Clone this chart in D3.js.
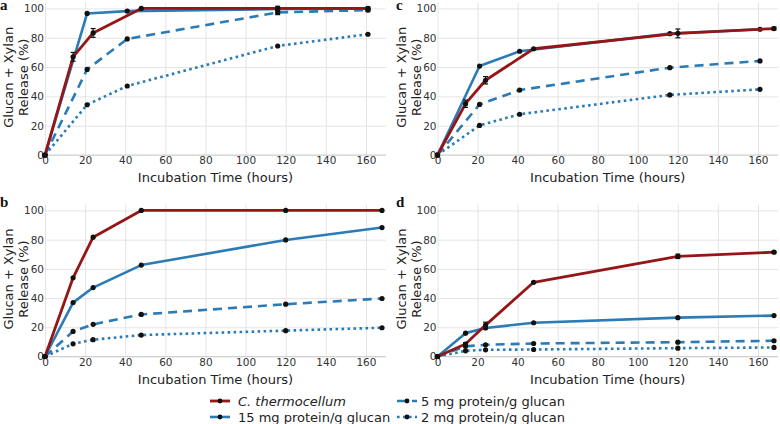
<!DOCTYPE html>
<html><head><meta charset="utf-8">
<script src="https://cdn.jsdelivr.net/npm/d3@7"></script>
<style>
html,body{margin:0;padding:0;background:#fff;}
svg text{font-family:"DejaVu Sans",Verdana,sans-serif;}
</style></head>
<body><svg id="chart" width="780" height="424"></svg>
<script>
// ---------- data ----------
const xTicks = [0,20,40,60,80,100,120,140,160];
const yTicks = [0,20,40,60,80,100];
const seriesNames = ["C. thermocellum","15 mg protein/g glucan","5 mg protein/g glucan","2 mg protein/g glucan"];

// panel a
const tA_ct  = [0,14,24,48,116,161];
const tA_enz = [0,21,41,116,161];
const a_ct   = [0,67,83.3,100,100,100];
const a_ctErr= [0,3,3,0,1.5,1];
const a_15   = [0,96.6,98.2,99.6,99.8];
const a_5    = [0,58.4,79.2,97.3,98.9];
const a_5Err = [0,0,0,1.5,1];
const a_2    = [0,34.3,47.1,74.4,82.4];

// panel b
const tB     = [0,14,24,48,120,168];
const b_ct   = [0,53.9,81.7,100,100,100];
const b_15   = [0,36.9,47.2,62.6,79.8,88.3];
const b_5    = [0,17.2,22,28.8,35.8,39.7];
const b_2    = [0,8.7,11.5,14.7,17.7,19.7];

// panel c
const tC_ct  = [0,14,24,48,120,168];
const tC_enz = [0,21,41,116,161];
const c_ct   = [0,35,51,72.5,83,86.3];
const c_ctErr= [0,2.5,2.5,0,3,1];
const c_15   = [0,60.7,70.8,82.8,85.8];
const c_5    = [0,34.5,44.3,59.6,64.2];
const c_2    = [0,20.2,27.8,41,44.8];

// panel d
const tD     = [0,14,24,48,120,168];
const d_ct   = [0,8.5,21.5,50.8,68.6,71.4];
const d_ctErr= [0,1,2,0.5,1.5,0.5];
const d_15   = [0,16,19.5,23.1,26.6,28];
const d_5    = [0,7,8,8.9,9.8,10.8];
const d_2    = [0,3.9,4.6,4.8,5.7,6.2];

// ---------- styles ----------
const RED = "#941616", BLUE = "#2a7bb6";
const styles = [
  {color:RED,  width:2.8, dash:null},
  {color:BLUE, width:2.6, dash:null},
  {color:BLUE, width:2.6, dash:"9,6"},
  {color:BLUE, width:2.6, dash:"2.6,3.4"}
];

const panels = [
  {label:"a", xr:[45,386],   yr:[155,2.6],   lx:0,   ly:10,
   series:[[tA_ct,a_ct,a_ctErr],[tA_enz,a_15,null],[tA_enz,a_5,a_5Err],[tA_enz,a_2,null]]},
  {label:"b", xr:[45,386],   yr:[356.5,204.6], lx:0, ly:207,
   series:[[tB,b_ct,null],[tB,b_15,null],[tB,b_5,null],[tB,b_2,null]]},
  {label:"c", xr:[437.5,778],yr:[155,2.6],   lx:396, ly:10,
   series:[[tC_ct,c_ct,c_ctErr],[tC_enz,c_15,null],[tC_enz,c_5,null],[tC_enz,c_2,null]]},
  {label:"d", xr:[437.5,778],yr:[356.5,204.6], lx:396, ly:207,
   series:[[tD,d_ct,d_ctErr],[tD,d_15,null],[tD,d_5,null],[tD,d_2,null]]}
];

const svg = d3.select("#chart");

panels.forEach(p => {
  const x = d3.scaleLinear().domain([0,170]).range(p.xr);
  const y = d3.scaleLinear().domain([0,104]).range(p.yr);
  const g = svg.append("g");

  // grid
  g.append("g").attr("transform",`translate(0,${p.yr[0]})`)
    .call(d3.axisBottom(x).tickValues(xTicks).tickSize(-(p.yr[0]-p.yr[1])).tickFormat(""))
    .call(a=>a.select(".domain").remove())
    .call(a=>a.selectAll("line").attr("stroke","#e4e4e4").attr("stroke-width",1));
  g.append("g").attr("transform",`translate(${p.xr[0]},0)`)
    .call(d3.axisLeft(y).tickValues(yTicks).tickSize(-(p.xr[1]-p.xr[0])).tickFormat(""))
    .call(a=>a.select(".domain").remove())
    .call(a=>a.selectAll("line").attr("stroke","#e4e4e4").attr("stroke-width",1));
  // zero line
  g.append("line").attr("x1",p.xr[0]).attr("x2",p.xr[1]).attr("y1",y(0)).attr("y2",y(0))
    .attr("stroke","#cfcfcf").attr("stroke-width",1);

  // tick labels
  const xa = g.append("g").attr("transform",`translate(0,${p.yr[0]})`)
    .call(d3.axisBottom(x).tickValues(xTicks).tickSize(0).tickPadding(2).tickFormat(d3.format("d")));
  xa.select(".domain").remove();
  xa.selectAll("text").attr("font-size","10.5px").attr("fill","#333").attr("font-family","DejaVu Sans");
  const ya = g.append("g").attr("transform",`translate(${p.xr[0]},0)`)
    .call(d3.axisLeft(y).tickValues(yTicks).tickSize(0).tickPadding(1).tickFormat(d3.format("d")));
  ya.select(".domain").remove();
  ya.selectAll("text").attr("font-size","10.5px").attr("fill","#333").attr("font-family","DejaVu Sans");

  // axis titles
  const cx = (p.xr[0]+p.xr[1])/2;
  g.append("text").attr("x",cx).attr("y",p.yr[0]+27).attr("text-anchor","middle")
    .attr("font-size","13px").attr("fill","#222").text("Incubation Time (hours)");
  const cy = (p.yr[0]+p.yr[1])/2 - 1.5;
  const yt = g.append("text").attr("transform",`translate(${p.xr[0]-32},${cy}) rotate(-90)`)
    .attr("text-anchor","middle").attr("font-size","13px").attr("fill","#222");
  yt.append("tspan").attr("x",0).attr("y",0).text("Glucan + Xylan");
  yt.append("tspan").attr("x",0).attr("y",15).text("Release (%)");

  // panel label
  svg.append("text").attr("x",p.lx).attr("y",p.ly).attr("font-size","15px")
    .attr("font-weight","bold").style("font-family","'Liberation Serif',serif").attr("fill","#111").text(p.label);

  // series: draw blue ones first, red last
  const order = [3,2,1,0];
  const line = d3.line().x(d=>x(d[0])).y(d=>y(d[1]));
  order.forEach(i => {
    const [t,v,err] = p.series[i];
    const st = styles[i];
    const pts = t.map((tt,k)=>[tt,v[k],err?err[k]:0]);
    g.append("path").datum(pts).attr("d",line).attr("fill","none")
      .attr("stroke",st.color).attr("stroke-width",st.width)
      .attr("stroke-dasharray",st.dash).attr("stroke-linejoin","round");
    // error bars
    pts.filter(d=>d[2]>0).forEach(d=>{
      const ex = x(d[0]);
      g.append("line").attr("x1",ex).attr("x2",ex).attr("y1",y(d[1]-d[2])).attr("y2",y(d[1]+d[2]))
        .attr("stroke","#111").attr("stroke-width",1.2);
      [d[1]-d[2], d[1]+d[2]].forEach(ev=>{
        g.append("line").attr("x1",ex-2.5).attr("x2",ex+2.5).attr("y1",y(ev)).attr("y2",y(ev))
          .attr("stroke","#111").attr("stroke-width",1.2);
      });
    });
    g.selectAll(null).data(pts).enter().append("circle")
      .attr("cx",d=>x(d[0])).attr("cy",d=>y(d[1])).attr("r",2.6).attr("fill","#111");
  });
});

// legend
const legendPos = [[210,401,238],[210,417,238],[397,401,421],[397,417,421]];
seriesNames.forEach((name,i)=>{
  const [lx,ly,tx] = legendPos[i];
  const st = styles[i];
  const lg = svg.append("g");
  lg.append("line").attr("x1",lx).attr("x2",lx+20).attr("y1",ly).attr("y2",ly)
    .attr("stroke",st.color).attr("stroke-width",st.width).attr("stroke-dasharray",st.dash);
  lg.append("circle").attr("cx",lx+10).attr("cy",ly).attr("r",2.4).attr("fill","#111");
  lg.append("text").attr("x",tx).attr("y",ly+4.5).attr("font-size","13px").attr("fill","#222")
    .attr("font-style", i===0 ? "italic" : null).text(name);
});
</script></body></html>
